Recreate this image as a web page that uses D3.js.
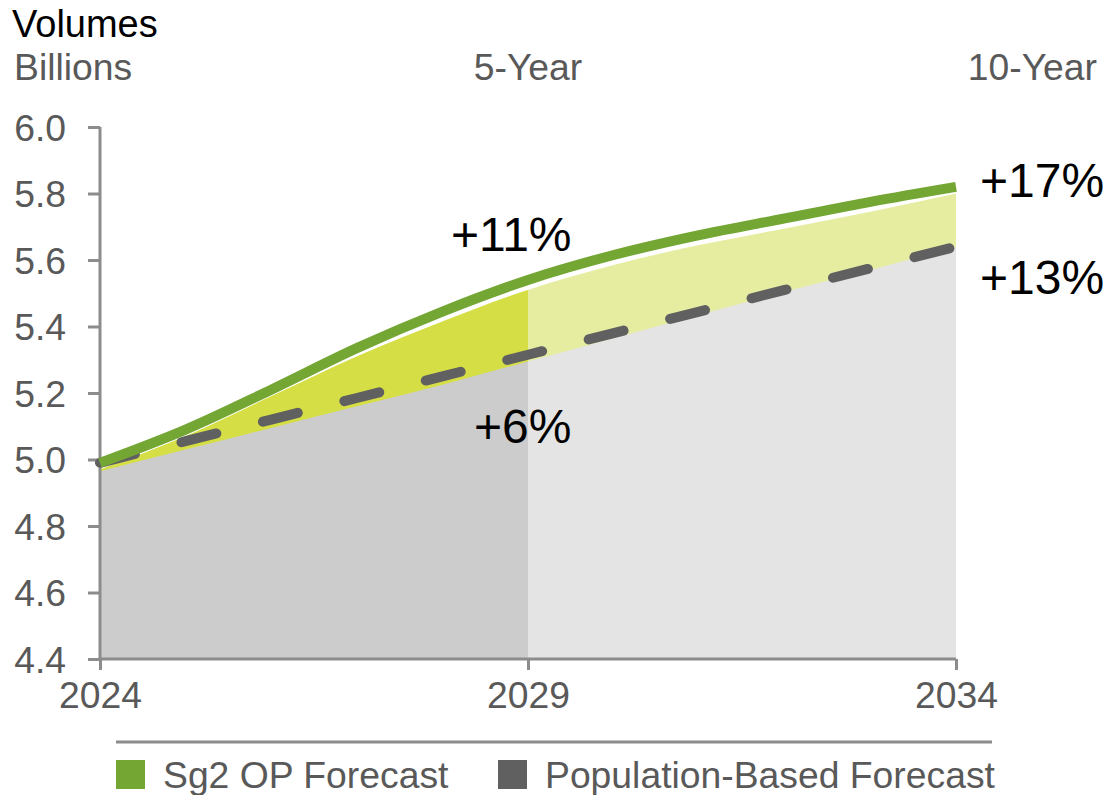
<!DOCTYPE html>
<html>
<head>
<meta charset="utf-8">
<script src="https://cdn.jsdelivr.net/npm/d3@7"></script>
<style>
  html, body { margin: 0; padding: 0; background: #fff; overflow: hidden; }
  svg { display: block; }
  text { font-family: "Liberation Sans", Arial, sans-serif; }
</style>
</head>
<body>
<div id="chart"></div>
<script>
// data
const years = [2024, 2025, 2026, 2027, 2028, 2029, 2030, 2031, 2032, 2033, 2034];
const opForecast = [4.99, 5.09, 5.21, 5.335, 5.445, 5.54, 5.615, 5.675, 5.725, 5.775, 5.82];
const popForecast = [4.99, 5.055, 5.12, 5.185, 5.25, 5.315, 5.38, 5.445, 5.51, 5.575, 5.64];
const opArea = [4.97, 5.07, 5.19, 5.31, 5.415, 5.51, 5.585, 5.645, 5.695, 5.745, 5.80];
const popArea = [4.965, 5.03, 5.095, 5.16, 5.225, 5.295, 5.365, 5.435, 5.505, 5.57, 5.64];
const yTicks = [4.4, 4.6, 4.8, 5.0, 5.2, 5.4, 5.6, 5.8, 6.0];
const xTicks = [2024, 2029, 2034];
const growthLabels = [
  {text: "+11%", year: 2029, value: 5.54},
  {text: "+6%", year: 2029, value: 5.315},
  {text: "+17%", year: 2034, value: 5.82},
  {text: "+13%", year: 2034, value: 5.64}
];
const legendItems = ["Sg2 OP Forecast", "Population-Based Forecast"];

var width = 1107
var height = 795

var svg = d3.select("#chart").append("svg")
    .attr("width", width)
    .attr("height", height)

const margin = {top: 127, right: 151, bottom: 136, left: 100}
const innerWidth = width - margin.left - margin.right;
const innerHeight = height - margin.top - margin.bottom;

const green = "#74a634", greyLine = "#606060", axisColor = "#8c8c8c", labelColor = "#595959";
const fontSize = "37.3px";

const data = years.map((y, i) => ({year: y, op: opForecast[i], pop: popForecast[i], opA: opArea[i], popA: popArea[i]}));

const xScale = d3.scaleLinear().domain([2024, 2034]).range([0, innerWidth]);
const yScale = d3.scaleLinear().domain([4.4, 6.0]).range([innerHeight, 0]);

const g = svg.append("g")
    .attr("transform", `translate(${margin.left}, ${margin.top})`)

// clip for the first five years (darker fills)
g.append("clipPath").attr("id", "firstFive")
  .append("rect")
    .attr("x", 0).attr("y", -20)
    .attr("width", xScale(2029)).attr("height", innerHeight + 20)

const areaGen = key => d3.area()
    .x(d => xScale(d.year))
    .y0(innerHeight)
    .y1(d => yScale(d[key]))
    .curve(d3.curveMonotoneX);

// light (10-year) fills
g.append("path").attr("d", areaGen("opA")(data)).attr("fill", "#e6eda0");
g.append("path").attr("d", areaGen("popA")(data)).attr("fill", "#e4e4e4");
// darker (5-year) fills
g.append("path").attr("d", areaGen("opA")(data)).attr("fill", "#d5df45").attr("clip-path", "url(#firstFive)");
g.append("path").attr("d", areaGen("popA")(data)).attr("fill", "#cccccc").attr("clip-path", "url(#firstFive)");

// axes
const yAxis = d3.axisLeft(yScale).tickValues(yTicks).tickSize(12).tickFormat(d3.format(".1f")).tickPadding(22);
const xAxis = d3.axisBottom(xScale).tickValues(xTicks).tickSize(11).tickFormat(d3.format("d")).tickPadding(12);

const yAxisG = g.append("g").call(yAxis);
const xAxisG = g.append("g").attr("transform", `translate(0, ${innerHeight})`).call(xAxis);

[yAxisG, xAxisG].forEach(ax => {
  ax.select(".domain").attr("stroke", axisColor).attr("stroke-width", 3);
  ax.selectAll(".tick line").attr("stroke", axisColor).attr("stroke-width", 3);
  ax.selectAll(".tick text")
    .attr("fill", labelColor)
    .style("font-size", fontSize)
    .style("font-family", "'Liberation Sans', Arial, sans-serif");
});
yAxisG.select(".domain").attr("d", `M0,0V${innerHeight}`);
yAxisG.selectAll(".tick text").attr("dy", "0.36em");
xAxisG.select(".domain").attr("d", `M0,0H${innerWidth}`);
xAxisG.selectAll(".tick text").attr("dy", "0.7em");

// lines
const lineGen = key => d3.line()
    .x(d => xScale(d.year))
    .y(d => yScale(d[key]))
    .curve(d3.curveMonotoneX);

g.append("path")
  .attr("d", lineGen("pop")(data))
  .attr("fill", "none")
  .attr("stroke", greyLine)
  .attr("stroke-width", 10)
  .attr("stroke-linecap", "round")
  .attr("stroke-dasharray", "36,48")

g.append("path")
  .attr("d", lineGen("op")(data))
  .attr("fill", "none")
  .attr("stroke", green)
  .attr("stroke-width", 10)

// growth labels
const labelOffsets = {"+11%": [-77, -29], "+6%": [-54, 88], "+17%": [24, 10], "+13%": [24, 47]};
g.selectAll(".growth").data(growthLabels).enter().append("text")
  .attr("class", "growth")
  .attr("x", d => xScale(d.year) + labelOffsets[d.text][0])
  .attr("y", d => yScale(d.value) + labelOffsets[d.text][1])
  .attr("fill", "#000")
  .style("font-size", "48px")
  .text(d => d.text);

// titles
svg.append("text").attr("x", 12).attr("y", 37).attr("fill", "#000").style("font-size", "38px").text("Volumes");
svg.append("text").attr("x", 14).attr("y", 80).attr("fill", labelColor).style("font-size", fontSize).text("Billions");
svg.append("text").attr("x", margin.left + xScale(2029)).attr("y", 80).attr("text-anchor", "middle")
  .attr("fill", labelColor).style("font-size", fontSize).text("5-Year");
svg.append("text").attr("x", 1097).attr("y", 80).attr("text-anchor", "end")
  .attr("fill", labelColor).style("font-size", fontSize).text("10-Year");

// legend
svg.append("line").attr("x1", 116).attr("x2", 992).attr("y1", 742).attr("y2", 742)
  .attr("stroke", axisColor).attr("stroke-width", 3);

const legendX = [116, 498];
const legendColors = [green, greyLine];
const lg = svg.selectAll(".legend").data(legendItems).enter().append("g")
  .attr("class", "legend")
  .attr("transform", (d, i) => `translate(${legendX[i]}, 760)`);
lg.append("rect").attr("width", 29).attr("height", 29).attr("fill", (d, i) => legendColors[i]);
lg.append("text").attr("x", 47).attr("y", 28).attr("fill", labelColor).style("font-size", fontSize).text(d => d);
</script>
</body>
</html>
